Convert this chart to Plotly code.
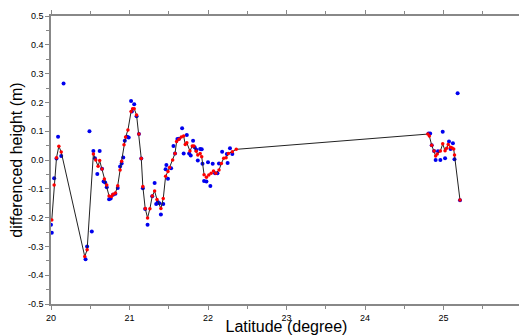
import plotly.graph_objects as go

# Smoothed series (red points, joined by the black line)
lat_smooth = [20.01, 20.04, 20.07, 20.10, 20.13, 20.43, 20.46, 20.54, 20.57, 20.60,
              20.62, 20.65, 20.68, 20.71, 20.74, 20.77, 20.79, 20.82, 20.85, 20.88,
              20.90, 20.93, 20.95, 20.98, 21.02, 21.04, 21.06, 21.09, 21.12, 21.15,
              21.17, 21.20, 21.23, 21.26, 21.29, 21.32, 21.35, 21.40, 21.43, 21.46,
              21.49, 21.51, 21.55, 21.58, 21.60, 21.63, 21.66, 21.69, 21.71, 21.73,
              21.77, 21.80, 21.82, 21.85, 21.87, 21.90, 21.92, 21.95, 21.98, 22.01,
              22.04, 22.07, 22.10, 22.14, 22.17, 22.20, 22.23, 22.26, 22.31, 22.36,
              24.80, 24.82, 24.85, 24.88, 24.90, 24.92, 24.96, 24.99, 25.02, 25.04,
              25.06, 25.09, 25.11, 25.13, 25.14, 25.21]
h_smooth = [-0.208, -0.087, 0.008, 0.048, 0.028, -0.335, -0.312, 0.021, 0.000, -0.022,
            -0.002, -0.031, -0.066, -0.087, -0.125, -0.127, -0.119, -0.115, -0.089, -0.035,
            -0.004, 0.053, 0.080, 0.104, 0.168, 0.178, 0.178, 0.156, 0.090, 0.005,
            -0.092, -0.168, -0.201, -0.169, -0.125, -0.108, -0.137, -0.168, -0.134, -0.056,
            -0.040, -0.026, 0.000, 0.023, 0.064, 0.072, 0.080, 0.083, 0.054, 0.060,
            0.031, 0.049, 0.049, 0.030, 0.017, 0.023, 0.011, -0.051, -0.060, -0.052,
            -0.046, -0.038, -0.046, -0.035, -0.012, 0.006, 0.008, 0.023, 0.029, 0.037,
            0.090, 0.083, 0.051, 0.031, 0.014, 0.021, 0.031, 0.056, 0.032, 0.041,
            0.054, 0.044, 0.042, 0.038, 0.017, -0.139]

# Raw observations (blue points)
lat_raw = [20.00, 20.01, 20.04, 20.07, 20.09, 20.13, 20.16, 20.44, 20.46, 20.49,
           20.52, 20.54, 20.56, 20.59, 20.62, 20.65, 20.67, 20.69, 20.71, 20.74,
           20.76, 20.79, 20.82, 20.85, 20.88, 20.90, 20.92, 20.94, 20.97, 20.99,
           21.02, 21.03, 21.06, 21.09, 21.12, 21.15, 21.17, 21.20, 21.23, 21.29,
           21.32, 21.34, 21.36, 21.38, 21.40, 21.43, 21.46, 21.47, 21.49, 21.53,
           21.56, 21.58, 21.61, 21.63, 21.67, 21.69, 21.73, 21.76, 21.78, 21.81,
           21.83, 21.85, 21.87, 21.90, 21.92, 21.93, 21.95, 21.98, 22.00, 22.03,
           22.06, 22.09, 22.12, 22.14, 22.18, 22.24, 22.25, 22.28, 22.31,
           24.81, 24.83, 24.85, 24.88, 24.90, 24.93, 24.96, 24.99, 25.02, 25.07,
           25.09, 25.12, 25.14, 25.18, 25.21]
h_raw = [-0.225, -0.253, -0.063, 0.005, 0.081, 0.014, 0.266, -0.345, -0.300, 0.100,
         -0.248, 0.031, 0.006, -0.049, 0.031, -0.030, -0.075, -0.078, -0.095, -0.136,
         -0.134, -0.121, -0.117, -0.097, -0.023, -0.012, 0.009, 0.067, 0.081, 0.078,
         0.205, 0.168, 0.194, 0.152, 0.090, 0.005, -0.098, -0.170, -0.225, -0.126,
         -0.080, -0.153, -0.146, -0.150, -0.189, -0.153, -0.032, -0.017, -0.065, -0.029,
         0.049, 0.023, 0.073, 0.074, 0.110, 0.023, 0.087, 0.023, 0.016, 0.067,
         0.044, 0.036, -0.002, 0.038, 0.037, -0.013, -0.073, -0.075, -0.008, -0.090,
         -0.013, -0.046, -0.046, -0.012, 0.029, 0.021, -0.010, 0.041, 0.021,
         0.092, 0.092, 0.051, 0.031, 0.000, 0.030, 0.000, 0.098, 0.006, 0.064,
         0.038, 0.058, 0.003, 0.232, -0.140]

x_ticks = [20, 21, 22, 23, 24, 25, 26]
y_ticks = [0.5, 0.4, 0.3, 0.2, 0.1, 0.0, -0.1, -0.2, -0.3, -0.4, -0.5]

fig = go.Figure()
fig.add_trace(go.Scatter(x=lat_raw, y=h_raw, mode="markers",
                         marker=dict(color="#0000ee", size=4), showlegend=False,
                         cliponaxis=False))
fig.add_trace(go.Scatter(x=lat_smooth, y=h_smooth, mode="lines+markers",
                         line=dict(color="#222222", width=1),
                         marker=dict(color="#ff0000", size=3.5), showlegend=False,
                         cliponaxis=False))

axis_common = dict(showgrid=False, zeroline=False, showline=True, linecolor="#888888",
                   linewidth=1.5, mirror="ticks", ticks="outside", ticklen=4,
                   tickcolor="#888888", tickwidth=1, automargin=False,
                   tickfont=dict(family="Liberation Sans, Arial", size=9, color="#000"))

fig.update_xaxes(range=[20, 26], tickvals=x_ticks, ticktext=[str(v) for v in x_ticks],
                 minor=dict(dtick=0.5, ticks="outside", ticklen=3, tickcolor="#888888"),
                 title=dict(text="Latitude (degree)", standoff=10,
                            font=dict(family="Liberation Sans, Arial", size=16, color="#000")),
                 **axis_common)
fig.update_yaxes(range=[-0.5, 0.5], tickvals=y_ticks, ticktext=[f"{v:.1f}" for v in y_ticks],
                 minor=dict(dtick=0.05, ticks="outside", ticklen=3, tickcolor="#888888"),
                 title=dict(text="differenced height (m)", standoff=2,
                            font=dict(family="Liberation Sans, Arial", size=16, color="#000")),
                 **axis_common)

# The page body adds an 8px offset, so the figure is sized to fit the window.
fig.update_layout(width=519, height=327, margin=dict(l=43, r=5, t=8, b=31),
                  paper_bgcolor="white", plot_bgcolor="white")

fig.write_html("out.html")
